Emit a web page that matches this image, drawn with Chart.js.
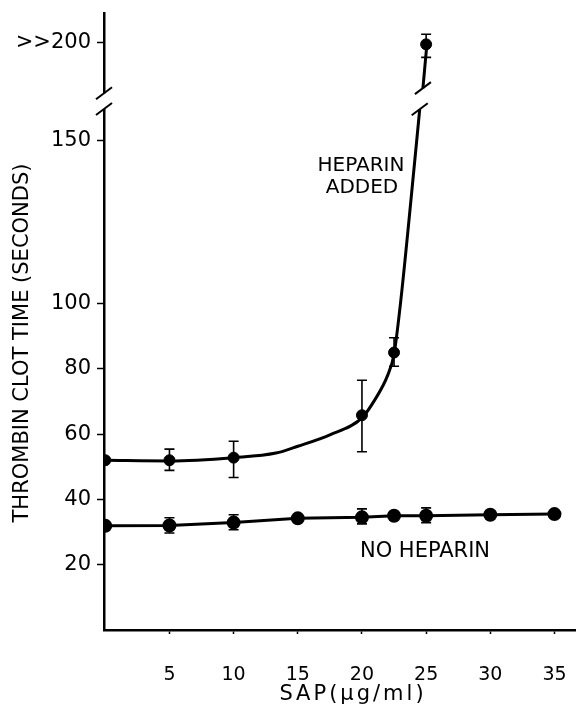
<!DOCTYPE html>
<html>
<head>
<meta charset="utf-8">
<script src="https://cdn.jsdelivr.net/npm/chart.js@4.4.0/dist/chart.umd.min.js"></script>
<style>
  html, body { margin: 0; padding: 0; background: #fff; }
  #wrap { width: 577px; height: 705px; }
</style>
</head>
<body>
<div id="wrap"><canvas id="clot-chart" width="577" height="705"></canvas></div>
<script>
// values (SAP in ug/ml, clot time in seconds)
const SAP_HEP = [0, 5, 10, 20, 22.5, 25];
const CLOT_HEP = [52, 52, 52.8, 65.8, 85, 179.4];
const HEP_LO = [null, 48.9, 46.7, 54.6, 80.8, 175.4];
const HEP_HI = [null, 55.4, 57.8, 76.5, 89.5, 182.5];

// hand-drawn curve through the heparin points (null = axis break)
const FIT_X = [0, 5, 10, 13.3, 15, 17.5, 20, 21, 22, 22.5, 23, 23.8, 24.5, 24.6, 24.75, 25.06];
const FIT_Y = [52, 51.8, 52.8, 54.2, 56.3, 59.8, 65, 70.5, 78, 84.5, 100, 131, 159.5, null, 166, 179.4];

const SAP_NOHEP = [0, 5, 10, 15, 20, 22.5, 25, 30, 35];
const CLOT_NOHEP = [31.9, 32, 32.9, 34.2, 34.5, 35, 35, 35.3, 35.5];
const NOHEP_LO = [null, 29.7, 30.7, null, 32.5, null, 32.9, null, null];
const NOHEP_HI = [null, 34.4, 35.3, null, 37.1, null, 37.4, null, null];

const X_TICKS = [5, 10, 15, 20, 25, 30, 35];
const Y_TICKS = [20, 40, 60, 80, 100, 150, 180];
const Y_TICK_LABELS = ["20", "40", "60", "80", "100", "150", ">>200"];
const AXIS_BREAK = [159.6, 164.4];
const CURVE_BREAK = [[24.5, 159.5], [24.75, 166]];

const FONT = "'DejaVu Sans', sans-serif";

function pts(xs, ys) {
  return xs.map((x, i) => ({ x, y: ys[i] }));
}

function slash(ctx, cx, cy) {
  ctx.beginPath();
  ctx.moveTo(cx - 8, cy + 6);
  ctx.lineTo(cx + 8, cy - 6);
  ctx.stroke();
}

// keep chart.js from shrinking the plot to make room for edge labels
function noEdgePadding(scale) {
  scale.paddingLeft = 0;
  scale.paddingRight = 0;
  scale.paddingTop = 0;
  scale.paddingBottom = 0;
}

const errorBars = {
  id: "errorBars",
  afterDatasetsDraw(chart) {
    const { ctx, scales: { x, y } } = chart;
    const groups = [
      [SAP_HEP, HEP_LO, HEP_HI],
      [SAP_NOHEP, NOHEP_LO, NOHEP_HI],
    ];
    ctx.save();
    ctx.strokeStyle = "#000";
    ctx.lineWidth = 1.6;
    groups.forEach(([xs, lo, hi]) => {
      xs.forEach((v, i) => {
        if (lo[i] == null) return;
        const px = x.getPixelForValue(v);
        const y1 = y.getPixelForValue(lo[i]);
        const y2 = y.getPixelForValue(hi[i]);
        ctx.beginPath();
        ctx.moveTo(px, y1);
        ctx.lineTo(px, y2);
        ctx.moveTo(px - 5, y1);
        ctx.lineTo(px + 5, y1);
        ctx.moveTo(px - 5, y2);
        ctx.lineTo(px + 5, y2);
        ctx.stroke();
      });
    });
    ctx.restore();
  },
};

const overlay = {
  id: "overlay",
  afterDraw(chart) {
    const { ctx, scales: { x, y } } = chart;
    ctx.save();

    // break in the y axis
    const ax = x.left;
    const b1 = y.getPixelForValue(AXIS_BREAK[0]);
    const b2 = y.getPixelForValue(AXIS_BREAK[1]);
    ctx.fillStyle = "#fff";
    ctx.fillRect(ax - 4, b2, 8, b1 - b2);
    ctx.strokeStyle = "#000";
    ctx.lineWidth = 2;
    slash(ctx, ax, b1);
    slash(ctx, ax, b2);

    // break in the heparin curve
    CURVE_BREAK.forEach(([bx, by]) => {
      slash(ctx, x.getPixelForValue(bx), y.getPixelForValue(by));
    });

    ctx.fillStyle = "#000";
    ctx.textAlign = "center";
    ctx.textBaseline = "middle";
    ctx.font = `20px ${FONT}`;
    ctx.fillText("HEPARIN", 361, 166);
    ctx.fillText("ADDED", 362, 188);
    ctx.font = `21px ${FONT}`;
    ctx.fillText("NO HEPARIN", 425, 552);

    ctx.font = `21px ${FONT}`;
    ctx.letterSpacing = "3px";
    ctx.fillText("SAP(\u03bcg/ml)", 353, 695);
    ctx.letterSpacing = "0px";

    ctx.translate(23, 343);
    ctx.rotate(-Math.PI / 2);
    ctx.font = `21px ${FONT}`;
    ctx.fillText("THROMBIN CLOT TIME (SECONDS)", 0, 0);
    ctx.restore();
  },
};

new Chart(document.getElementById("clot-chart"), {
  type: "scatter",
  data: {
    datasets: [
      {
        label: "Heparin added",
        data: pts(SAP_HEP, CLOT_HEP),
        pointRadius: 5.5,
        pointBackgroundColor: "#000",
        pointBorderColor: "#000",
        showLine: false,
      },
      {
        label: "Heparin curve",
        data: pts(FIT_X, FIT_Y),
        showLine: true,
        pointRadius: 0,
        borderColor: "#000",
        borderWidth: 3,
        cubicInterpolationMode: "monotone",
        spanGaps: false,
      },
      {
        label: "No heparin",
        data: pts(SAP_NOHEP, CLOT_NOHEP),
        showLine: true,
        pointRadius: 5.5,
        pointBackgroundColor: "#000",
        pointBorderColor: "#000",
        borderColor: "#000",
        borderWidth: 3,
      },
    ],
  },
  options: {
    responsive: false,
    animation: false,
    layout: { autoPadding: false, padding: { top: 13, right: 2, left: 0, bottom: 0 } },
    plugins: {
      legend: { display: false },
      tooltip: { enabled: false },
    },
    scales: {
      x: {
        type: "linear",
        min: -0.1,
        max: 36.6,
        afterBuildTicks: (scale) => {
          scale.ticks = X_TICKS.map((v) => ({ value: v }));
        },
        afterFit: (scale) => {
          scale.height = 75;
          noEdgePadding(scale);
        },
        grid: { drawOnChartArea: false, tickLength: 4, tickColor: "#000", tickWidth: 1.5 },
        border: { color: "#000", width: 2.5 },
        ticks: { color: "#000", font: { family: FONT, size: 19 }, padding: 30, maxRotation: 0 },
      },
      y: {
        type: "linear",
        min: 0,
        max: 189,
        afterBuildTicks: (scale) => {
          scale.ticks = Y_TICKS.map((v) => ({ value: v }));
        },
        afterFit: (scale) => {
          scale.width = 104;
          noEdgePadding(scale);
        },
        grid: { drawOnChartArea: false, tickLength: 7, tickColor: "#000", tickWidth: 1.5 },
        border: { color: "#000", width: 2.5 },
        ticks: {
          color: "#000",
          font: { family: FONT, size: 21 },
          padding: 6,
          callback: (v) => Y_TICK_LABELS[Y_TICKS.indexOf(v)],
        },
      },
    },
  },
  plugins: [errorBars, overlay],
});
</script>
</body>
</html>
